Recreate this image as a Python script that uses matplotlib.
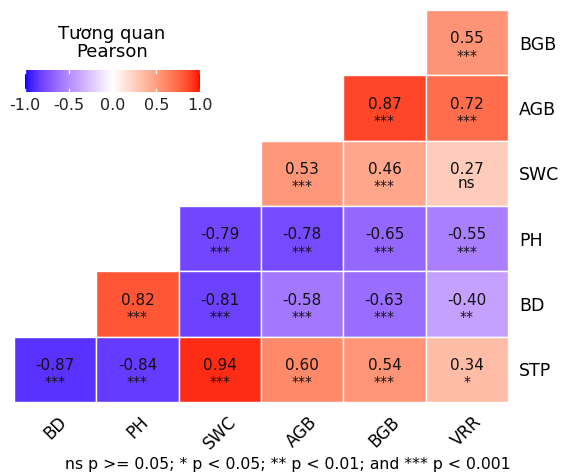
import numpy as np
import matplotlib.pyplot as plt
from matplotlib.colors import ListedColormap, Normalize
from matplotlib.cm import ScalarMappable

plt.rcParams['font.family'] = ['DejaVu Sans']

cols = ['BD', 'PH', 'SWC', 'AGB', 'BGB', 'VRR']
rows = ['BGB', 'AGB', 'SWC', 'PH', 'BD', 'STP']  # top to bottom

# correlation values (NaN = empty upper part)
r_BGB = [np.nan, np.nan, np.nan, np.nan, np.nan, 0.55]
r_AGB = [np.nan, np.nan, np.nan, np.nan, 0.87, 0.72]
r_SWC = [np.nan, np.nan, np.nan, 0.53, 0.46, 0.27]
r_PH = [np.nan, np.nan, -0.79, -0.78, -0.65, -0.55]
r_BD = [np.nan, 0.82, -0.81, -0.58, -0.63, -0.40]
r_STP = [-0.87, -0.84, 0.94, 0.60, 0.54, 0.34]

s_BGB = ['', '', '', '', '', '***']
s_AGB = ['', '', '', '', '***', '***']
s_SWC = ['', '', '', '***', '***', 'ns']
s_PH = ['', '', '***', '***', '***', '***']
s_BD = ['', '***', '***', '***', '***', '**']
s_STP = ['***', '***', '***', '***', '***', '*']

corr = np.array([r_BGB, r_AGB, r_SWC, r_PH, r_BD, r_STP])
sig = [s_BGB, s_AGB, s_SWC, s_PH, s_BD, s_STP]


# blue - white - red gradient interpolated in Lab space
def srgb_to_lab(c):
    c = np.asarray(c, float)
    lin = np.where(c <= 0.04045, c / 12.92, ((c + 0.055) / 1.055) ** 2.4)
    M = np.array([[0.4124, 0.3576, 0.1805],
                  [0.2126, 0.7152, 0.0722],
                  [0.0193, 0.1192, 0.9505]])
    xyz = M @ lin / np.array([0.95047, 1.0, 1.08883])
    f = np.where(xyz > 0.008856, np.cbrt(xyz), 7.787 * xyz + 16 / 116)
    return np.array([116 * f[1] - 16, 500 * (f[0] - f[1]), 200 * (f[1] - f[2])])


def lab_to_srgb(lab):
    L, a, b = lab
    fy = (L + 16) / 116
    fx = fy + a / 500
    fz = fy - b / 200
    f = np.array([fx, fy, fz])
    xyz = np.where(f ** 3 > 0.008856, f ** 3, (f - 16 / 116) / 7.787)
    xyz = xyz * np.array([0.95047, 1.0, 1.08883])
    Mi = np.array([[3.2406, -1.5372, -0.4986],
                   [-0.9689, 1.8758, 0.0415],
                   [0.0557, -0.2040, 1.0570]])
    lin = Mi @ xyz
    lin = np.clip(lin, 0, 1)
    c = np.where(lin <= 0.0031308, 12.92 * lin, 1.055 * lin ** (1 / 2.4) - 0.055)
    return np.clip(c, 0, 1)


blue = srgb_to_lab([0, 0, 1])
white = srgb_to_lab([1, 1, 1])
red = srgb_to_lab([1, 0, 0])
lut = []
for t in np.linspace(-1, 1, 256):
    if t < 0:
        lab = white + (blue - white) * (-t)
    else:
        lab = white + (red - white) * t
    lut.append(lab_to_srgb(lab))
cmap = ListedColormap(lut)
norm = Normalize(-1, 1)

fig = plt.figure(figsize=(5.66, 4.75), dpi=100)
ax = fig.add_axes([14 / 566, 1 - 402 / 475, 494 / 566, 392 / 475])

nr, nc = corr.shape
for i in range(nr):
    for j in range(nc):
        v = corr[i, j]
        if np.isnan(v):
            continue
        y = nr - 1 - i
        ax.add_patch(plt.Rectangle((j, y), 1, 1, facecolor=cmap(norm(v)),
                                   edgecolor='white', linewidth=1))
        ax.text(j + 0.5, y + 0.56, f'{v:.2f}', ha='center', va='center',
                fontsize=11, color='#111111')
        star = sig[i][j] != 'ns'
        ax.text(j + 0.5, y + (0.30 if star else 0.34), sig[i][j],
                ha='center', va='center',
                fontsize=10 if star else 11, color='#111111')

ax.set_xlim(0, nc)
ax.set_ylim(0, nr)
ax.set_xticks(np.arange(nc) + 0.5)
ax.set_xticklabels(cols, rotation=45, fontsize=12)
ax.set_yticks(np.arange(nr) + 0.5)
ax.set_yticklabels(rows[::-1], fontsize=12.5)
ax.yaxis.tick_right()
ax.tick_params(length=0, pad=8)
for lbl in ax.get_xticklabels():
    lbl.set_ha('center')
    lbl.set_va('top')
for s in ax.spines.values():
    s.set_visible(False)

# colour legend
cax = fig.add_axes([25 / 566, 1 - 92 / 475, 175 / 566, 22 / 475])
cb = fig.colorbar(ScalarMappable(norm=norm, cmap=cmap), cax=cax,
                  orientation='horizontal', ticks=[-1, -0.5, 0, 0.5, 1])
cb.outline.set_visible(False)
cb.ax.tick_params(length=0, labelsize=11.5, pad=4, colors='#222222')
cb.ax.set_xticklabels(['-1.0', '-0.5', '0.0', '0.5', '1.0'])
for t in [-1, -0.5, 0, 0.5, 1]:
    cb.ax.axvline(t, ymin=0, ymax=0.15, color='white', lw=1)
    cb.ax.axvline(t, ymin=0.85, ymax=1, color='white', lw=1)
fig.text(112 / 566, 1 - 43 / 475, 'Tương quan\nPearson', ha='center', va='center',
         fontsize=13, linespacing=1.0)

fig.text(288 / 566, 1 - 464 / 475,
         'ns p >= 0.05; * p < 0.05; ** p < 0.01; and *** p < 0.001',
         ha='center', va='center', fontsize=11.3)

fig.savefig('out.png', dpi=100)
